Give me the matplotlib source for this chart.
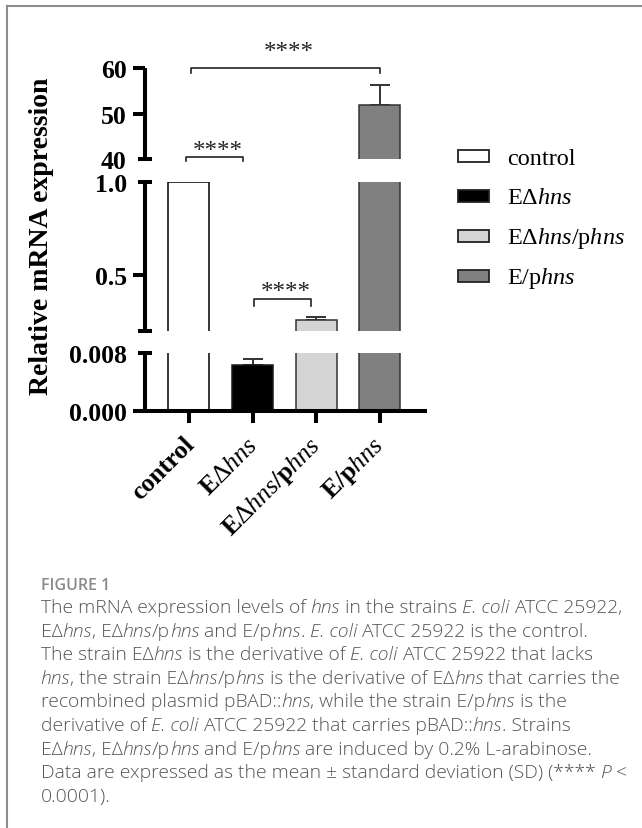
import matplotlib
matplotlib.use('Agg')
import matplotlib.pyplot as plt
from matplotlib.patches import Rectangle
from matplotlib.lines import Line2D
from matplotlib.transforms import IdentityTransform, ScaledTranslation
from matplotlib.ticker import FixedLocator, FixedFormatter
import numpy as np

plt.rcParams['mathtext.fontset'] = 'custom'
plt.rcParams['mathtext.rm'] = 'Liberation Serif'
plt.rcParams['mathtext.it'] = 'Liberation Serif:italic'
plt.rcParams['mathtext.bf'] = 'Liberation Serif:bold'
plt.rcParams['font.family'] = ['Liberation Serif', 'DejaVu Sans']

# ---------------- data ----------------
categories = ['control', 'EΔhns', 'EΔhns/phns', 'E/phns']
tick_labels = ['control', r'E$\Delta\mathit{hns}$',
               r'E$\Delta\mathit{hns}$/p$\mathit{hns}$', r'E/p$\mathit{hns}$']
legend_labels = ['control', r'E$\Delta\mathit{hns}$',
                 r'E$\Delta\mathit{hns}$/p$\mathit{hns}$', r'E/p$\mathit{hns}$']
means = [1.0, 0.0064, 0.259, 52.0]
sds = [0.0, 0.0007, 0.018, 4.4]
bar_colors = ['#ffffff', '#000000', '#d4d4d4', '#808080']
edge_colors = ['#000000', '#1a1a1a', '#333333', '#333333']

# broken-axis segments: (low, high), major ticks/labels, end-cap ticks/labels
seg_limits = [(0.0, 0.008), (0.2, 1.0), (40, 60)]
seg_major = [[0.0], [0.5], [50, 60]]
seg_major_lab = [['0.000'], ['0.5'], ['50', '60']]
seg_caps = [[0.008], [0.2, 1.0], [40]]
seg_caps_lab = [['0.008'], ['', '1.0'], ['40']]

# significance brackets: (segment, x0, x1, y, tip_y, text_y)
sig_brackets = [(2, 0.03, 3.0, 60.0, 58.95, 63.6),
                (2, -0.05, 0.85, 40.37, 39.5, 41.7),
                (1, 1.02, 1.92, 0.372, 0.336, 0.41)]
sig_text = '****'

caption_title = 'FIGURE 1'
caption_lines = [
    "The mRNA expression levels of _hns_ in the strains _E. coli_ ATCC 25922,",
    "EΔ_hns_, EΔ_hns_/p_hns_ and E/p_hns_. _E. coli_ ATCC 25922 is the control.",
    "The strain EΔ_hns_ is the derivative of _E. coli_ ATCC 25922 that lacks",
    "_hns_, the strain EΔ_hns_/p_hns_ is the derivative of EΔ_hns_ that carries the",
    "recombined plasmid pBAD::_hns_, while the strain E/p_hns_ is the",
    "derivative of _E. coli_ ATCC 25922 that carries pBAD::_hns_. Strains",
    "EΔ_hns_, EΔ_hns_/p_hns_ and E/p_hns_ are induced by 0.2% L-arabinose.",
    "Data are expressed as the mean ± standard deviation (SD) (**** _P_ <",
    "0.0001).",
]

# ---------------- layout ----------------
W, H = 642, 829
fig = plt.figure(figsize=(W / 100, H / 100), dpi=100)
fig.patch.set_facecolor('white')


def px_rect(x0, ytop, x1, ybot):
    return [x0 / W, 1 - ybot / H, (x1 - x0) / W, (ybot - ytop) / H]


seg_rects = [px_rect(145, 354, 425, 411.7),
             px_rect(145, 183, 425, 332),
             px_rect(145, 69.3, 425, 160)]

x = np.arange(len(categories))
LW = 2.9
TL = 8.6
axes = []
for i, rect in enumerate(seg_rects):
    ax = fig.add_axes(rect)
    ax.set_facecolor('none')
    ax.bar(x, means, width=0.645, color=bar_colors, edgecolor=edge_colors,
           linewidth=1.1, zorder=2)
    idx = [k for k in range(len(means)) if sds[k] > 0]
    ax.errorbar(x[idx], np.array(means)[idx],
                yerr=[np.zeros(len(idx)), np.array(sds)[idx]],
                fmt='none', ecolor='#333333', elinewidth=1.4, capsize=7.5,
                capthick=1.4, zorder=1)
    ax.set_xlim(-0.688, 3.708)
    ax.set_ylim(*seg_limits[i])
    for s in ['top', 'right']:
        ax.spines[s].set_visible(False)
    ax.spines['left'].set_linewidth(LW)
    ax.spines['left'].set_capstyle('butt')
    ax.yaxis.set_major_locator(FixedLocator(seg_major[i]))
    ax.yaxis.set_major_formatter(FixedFormatter(seg_major_lab[i]))
    ax.yaxis.set_minor_locator(FixedLocator(seg_caps[i]))
    ax.yaxis.set_minor_formatter(FixedFormatter(seg_caps_lab[i]))
    ax.tick_params(axis='y', which='major', direction='out', length=TL,
                   width=LW, pad=4.5, labelsize=18.5)
    ax.tick_params(axis='y', which='minor', direction='inout', length=10,
                   width=LW, pad=4.5 + TL - 5, labelsize=18.5)
    for lab in ax.get_yticklabels(which='both'):
        lab.set_fontweight('bold')
    if i == 0:
        ax.spines['bottom'].set_linewidth(LW)
        ax.set_xticks(x)
        ax.set_xticklabels(tick_labels, rotation=45, ha='right', va='top',
                           fontsize=18.5, fontweight='bold')
        ax.tick_params(axis='x', direction='out', length=TL, width=LW, pad=7)
        off = ScaledTranslation(10 / 100, 0, fig.dpi_scale_trans)
        for lab in ax.get_xticklabels():
            lab.set_transform(lab.get_transform() + off)
    else:
        ax.spines['bottom'].set_visible(False)
        ax.set_xticks([])
    axes.append(ax)

# significance brackets
for seg, x0, x1, yb, yt, ytxt in sig_brackets:
    ax = axes[seg]
    ax.add_line(Line2D([x0, x0, x1, x1], [yt, yb, yb, yt], color='#222222',
                       lw=1.2, clip_on=False))
    ax.text((x0 + x1) / 2 + 0.05, ytxt, sig_text, ha='center', va='center',
            fontsize=18, color='#222222', clip_on=False)

# y label
fig.text(41.7 / W, 1 - 236.5 / H, 'Relative mRNA expression', rotation=90,
         ha='center', va='center', fontsize=20, fontweight='bold')

# legend
leg_rows = [157.3, 196.8, 237.0, 276.8]
for k, yc in enumerate(leg_rows):
    fig.add_artist(Rectangle((457.7 / W, 1 - (yc + 5.9) / H), 31.3 / W, 11.8 / H,
                             transform=fig.transFigure, facecolor=bar_colors[k],
                             edgecolor='#222222', linewidth=1.3))
    fig.text(506.7 / W, 1 - (yc + 7.5) / H, legend_labels[k], ha='left',
             va='baseline', fontsize=17.5)

# frame lines
fig.add_artist(Line2D([7.3 / W, 7.3 / W], [0, 1 - 7.3 / H], transform=fig.transFigure,
                      color='#8c8c8c', lw=1.5))
fig.add_artist(Line2D([7.3 / W, 1], [1 - 7.3 / H, 1 - 7.3 / H], transform=fig.transFigure,
                      color='#8c8c8c', lw=1.5))

# caption
renderer = fig.canvas.get_renderer()
cap_font = dict(family=['Open Sans', 'DejaVu Sans'], fontsize=13.85,
                fontweight='light', color='#555555')


def text_w(s, style):
    t = fig.text(0, 0, s, transform=IdentityTransform(), fontstyle=style, **cap_font)
    w = t.get_window_extent(renderer).width
    t.remove()
    return w


space_w = {st: text_w('x x', st) - text_w('xx', st) for st in ['normal', 'italic']}


def draw_line(x0, ybase, line):
    parts = line.split('_')
    xx = x0
    for k, part in enumerate(parts):
        if not part:
            continue
        st = 'italic' if k % 2 else 'normal'
        lead = len(part) - len(part.lstrip(' '))
        trail = len(part) - len(part.rstrip(' '))
        core = part.strip(' ')
        xx += lead * space_w[st]
        t = fig.text(xx, H - ybase, core, transform=IdentityTransform(),
                     fontstyle=st, va='baseline', ha='left', **cap_font)
        xx += t.get_window_extent(renderer).width + trail * space_w[st]


fig.text(40.7, H - 590.5, caption_title, transform=IdentityTransform(),
         family=['Open Sans', 'DejaVu Sans'], fontsize=11.5, fontweight='semibold',
         color='#8a8a8a', va='baseline', ha='left')
for i, ln in enumerate(caption_lines):
    draw_line(40.7, 613.0 + 23.6 * i, ln)

fig.savefig('out.png', dpi=100)
